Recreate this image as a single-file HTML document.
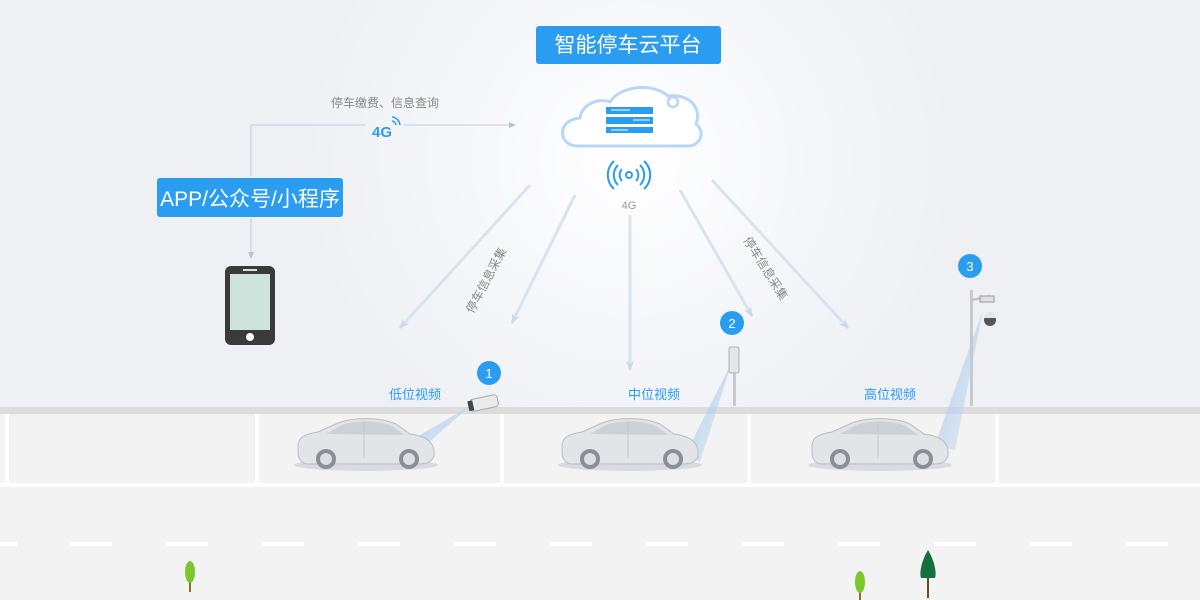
<!DOCTYPE html>
<html><head><meta charset="utf-8"><style>
body{margin:0;width:1200px;height:600px;overflow:hidden;font-family:"Liberation Sans","Noto Sans CJK SC",sans-serif;}
</style></head><body>
<svg width="1200" height="600" viewBox="0 0 1200 600" xmlns="http://www.w3.org/2000/svg" style="display:block">
<defs>
<radialGradient id="glow" cx="630" cy="160" r="330" gradientUnits="userSpaceOnUse">
<stop offset="0" stop-color="#ffffff"/><stop offset="0.5" stop-color="#f6f7fa"/><stop offset="1" stop-color="#eef0f4"/>
</radialGradient>
<linearGradient id="beam" x1="0" y1="0" x2="1" y2="1"><stop offset="0" stop-color="#9cc2ee" stop-opacity="0.8"/><stop offset="1" stop-color="#c9dcf3" stop-opacity="0.4"/></linearGradient>
<marker id="ah" markerUnits="userSpaceOnUse" markerWidth="12" markerHeight="12" refX="9" refY="6" orient="auto"><path d="M0,2 L10,6 L0,10 L3,6 Z" fill="#ccd8e8"/></marker>
<marker id="ah2" markerUnits="userSpaceOnUse" markerWidth="8" markerHeight="8" refX="6" refY="4" orient="auto"><path d="M0,1 L7,4 L0,7 Z" fill="#b7c3d4"/></marker>
<g id="car">
<ellipse cx="68" cy="47" rx="72" ry="6" fill="#d9dbdf"/>
<path d="M0,28 C0,20 6,16 20,14 L40,5 C56,-1 82,-1 98,6 L112,16 C126,18 134,22 136,32 L136,38 C134,44 128,46 122,46 L10,46 C3,46 0,40 0,34 Z" fill="#e2e4e8" stroke="#b9bcc2" stroke-width="1"/>
<path d="M28,16 L44,7 C58,2 80,2 94,8 L106,17 Z" fill="#cdd0d5"/>
<line x1="66" y1="4" x2="66" y2="40" stroke="#c3c6cb" stroke-width="1"/>
<circle cx="28" cy="41" r="10" fill="#8a8e95"/><circle cx="28" cy="41" r="6" fill="#dcdee2"/>
<circle cx="111" cy="41" r="10" fill="#8a8e95"/><circle cx="111" cy="41" r="6" fill="#dcdee2"/>
</g>
</defs>
<rect width="1200" height="410" fill="url(#glow)"/>
<rect y="410" width="1200" height="190" fill="#f3f3f3"/>
<rect y="407" width="1200" height="7" fill="#dcdcdc"/>
<g fill="#ffffff">
<rect x="5" y="414" width="4" height="70"/><rect x="255" y="414" width="4" height="70"/><rect x="500" y="414" width="4" height="70"/><rect x="747" y="414" width="4" height="70"/><rect x="995" y="414" width="4" height="70"/>
<rect x="0" y="483" width="1200" height="4"/>
</g>
<g fill="#ffffff">
<rect x="0" y="542" width="17" height="4"/><rect x="70" y="542" width="42" height="4"/><rect x="166" y="542" width="42" height="4"/><rect x="262" y="542" width="42" height="4"/><rect x="358" y="542" width="42" height="4"/><rect x="454" y="542" width="42" height="4"/><rect x="550" y="542" width="42" height="4"/><rect x="646" y="542" width="42" height="4"/><rect x="742" y="542" width="42" height="4"/><rect x="838" y="542" width="42" height="4"/><rect x="934" y="542" width="42" height="4"/><rect x="1030" y="542" width="42" height="4"/><rect x="1126" y="542" width="42" height="4"/>
</g>
<!-- rays -->
<g stroke="#d9e3ef" stroke-width="3" fill="none" marker-end="url(#ah)">
<line x1="530" y1="185" x2="400" y2="328"/>
<line x1="575" y1="195" x2="512" y2="323"/>
<line x1="630" y1="215" x2="630" y2="370"/>
<line x1="680" y1="190" x2="752" y2="316"/>
<line x1="712" y1="180" x2="848" y2="328"/>
</g>
<text x="0" y="0" transform="translate(473,314) rotate(-62)" font-size="12" fill="#888">停车信息采集</text>
<text x="0" y="0" transform="translate(743,240) rotate(58)" font-size="12" fill="#888">停车信息采集</text>
<!-- left connectors -->
<g stroke="#c2cddc" stroke-width="1" fill="none">
<polyline points="251,176 251,125 365,125"/>
<line x1="404" y1="125" x2="515" y2="125" marker-end="url(#ah2)"/>
<line x1="251" y1="218" x2="251" y2="258" marker-end="url(#ah2)"/>
</g>
<text x="385" y="107" font-size="12" fill="#888" text-anchor="middle">停车缴费、信息查询</text>
<text x="382" y="137" font-size="15" font-weight="bold" fill="#2b9df0" text-anchor="middle">4G</text>
<path d="M392,121 a5,5 0 0 1 4,4 M392,117 a9,9 0 0 1 8,8" stroke="#2b9df0" stroke-width="1.5" fill="none"/>
<rect x="157" y="178" width="186" height="39" rx="3" fill="#2b9df0"/>
<text x="250" y="206" font-size="21" fill="#fff" text-anchor="middle">APP/公众号/小程序</text>
<rect x="536" y="26" width="185" height="38" rx="3" fill="#2b9df0"/>
<text x="628" y="52" font-size="21" fill="#fff" text-anchor="middle">智能停车云平台</text>
<!-- phone -->
<rect x="225" y="266" width="50" height="79" rx="6" fill="#3a3a3a"/>
<rect x="230" y="274" width="40" height="56" fill="#cfe3dd"/>
<rect x="243" y="269" width="14" height="2" fill="#ddd"/>
<circle cx="250" cy="337" r="4" fill="#fff"/>
<!-- cloud -->
<path d="M578,146 C558,146 556,120 580,118 C582,104 598,98 610,102 C620,86 652,82 668,96 C690,94 702,108 696,124 C706,132 700,146 688,146 Z" fill="#fff" stroke="#b8d6f7" stroke-width="3"/>
<circle cx="673" cy="102" r="5" fill="#fff" stroke="#b8d6f7" stroke-width="2.5"/>
<rect x="606" y="107" width="47" height="7" fill="#2b9df0"/><rect x="606" y="117" width="47" height="7" fill="#2b9df0"/><rect x="606" y="127" width="47" height="6" fill="#2b9df0"/>
<g stroke="#fff" stroke-width="1"><line x1="611" y1="110" x2="630" y2="110"/><line x1="633" y1="120" x2="650" y2="120"/><line x1="611" y1="130" x2="628" y2="130"/></g>
<g stroke="#2b9df0" stroke-width="2" fill="none">
<circle cx="629" cy="175" r="3"/>
<path d="M622,169 a9,9 0 0 0 0,12 M636,169 a9,9 0 0 1 0,12"/>
<path d="M618,165 a14,14 0 0 0 0,20 M640,165 a14,14 0 0 1 0,20"/>
<path d="M614,161 a19,19 0 0 0 0,28 M644,161 a19,19 0 0 1 0,28"/>
</g>
<text x="629" y="209" font-size="11" fill="#999" text-anchor="middle">4G</text>
<!-- beams -->
<polygon points="470,406 408,442 418,452" fill="url(#beam)"/>
<polygon points="732,362 685,455 700,462" fill="url(#beam)"/>
<polygon points="983,310 935,445 955,450" fill="url(#beam)"/>
<!-- cars -->
<use href="#car" x="298" y="418"/>
<use href="#car" x="562" y="418"/>
<use href="#car" x="812" y="418"/>
<!-- devices -->
<g transform="rotate(-12 484 403)"><rect x="470" y="397" width="28" height="12" rx="3" fill="#e9eaec" stroke="#aaa"/><rect x="468" y="398" width="5" height="10" fill="#444"/></g>
<rect x="733" y="350" width="3" height="56" fill="#c8c9cc"/><rect x="729" y="347" width="10" height="26" rx="2" fill="#e4e5e8" stroke="#b0b0b0"/>
<rect x="970" y="290" width="3" height="116" fill="#c8c9cc"/><line x1="972" y1="300" x2="990" y2="296" stroke="#bbb" stroke-width="2"/>
<rect x="980" y="296" width="14" height="6" fill="#e0e0e0" stroke="#999"/><circle cx="990" cy="320" r="6" fill="#555"/><path d="M984,318 a6,6 0 0 1 12,0" fill="#e5e5e5"/>
<!-- badges -->
<g fill="#2b9df0"><circle cx="489" cy="373" r="12"/><circle cx="732" cy="323" r="12"/><circle cx="970" cy="266" r="12"/></g>
<g fill="#fff" font-size="13" text-anchor="middle"><text x="489" y="378">1</text><text x="732" y="328">2</text><text x="970" y="271">3</text></g>
<g fill="#2b9df0" font-size="13" text-anchor="middle"><text x="415" y="399">低位视频</text><text x="654" y="399">中位视频</text><text x="890" y="399">高位视频</text></g>
<!-- trees -->
<rect x="189" y="578" width="2" height="14" fill="#8b6a3a"/><ellipse cx="190" cy="572" rx="5" ry="11" fill="#7cc62e"/>
<rect x="859" y="586" width="2" height="14" fill="#8b6a3a"/><ellipse cx="860" cy="582" rx="5" ry="11" fill="#7cc62e"/>
<rect x="927" y="575" width="2" height="23" fill="#6b4a2a"/><path d="M928,550 C922,560 919,572 921,578 L935,578 C937,572 934,560 928,550 Z" fill="#13703f"/>
</svg>
</body></html>
